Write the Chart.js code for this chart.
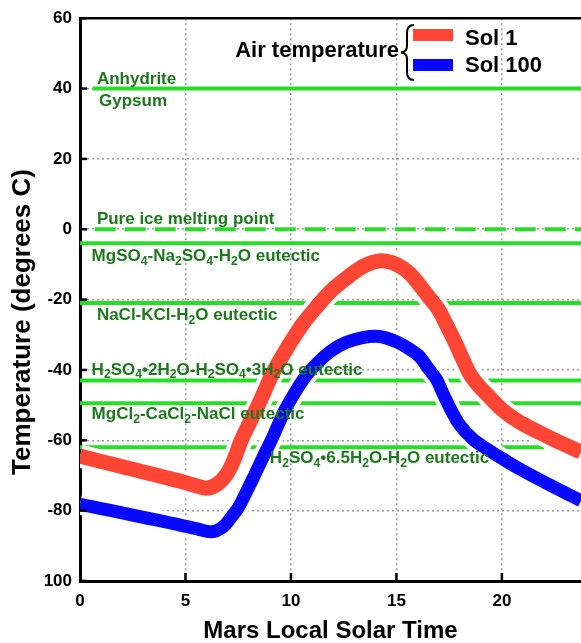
<!DOCTYPE html>
<html>
<head>
<meta charset="utf-8">
<script src="https://cdn.jsdelivr.net/npm/chart.js@4.4.0/dist/chart.umd.min.js"></script>
<style>
  html, body { margin: 0; padding: 0; background: #fff; }
  canvas { display: block; }
</style>
</head>
<body>
<canvas id="tempChart" width="581" height="643"></canvas>
<script>
// Air temperature over a Mars day (hours, deg C)
const sol1Hours = [0, 1, 2, 3, 4, 4.74, 5.5, 6.0, 6.5, 6.96, 7.3, 7.63, 8.0, 8.38, 8.75, 9.1, 9.55, 10.0, 10.55, 11.14, 11.9, 12.8, 13.5, 14.2, 14.8, 15.3, 15.7, 16.1, 16.5, 16.97, 17.4, 17.77, 18.15, 18.5, 18.9, 19.3, 20.05, 20.8, 21.65, 22.7, 23.75];
const sol1Temps = [-64.5, -66, -67.5, -69, -70.5, -71.6, -72.9, -73.6, -72.5, -69.6, -65.5, -60.2, -55.5, -50.9, -46, -41.3, -36.5, -32, -27, -22.6, -17.5, -13.1, -10.3, -9, -9.5, -11, -13, -15.9, -19, -22.6, -27.5, -32, -37, -41.3, -44.5, -47, -51.5, -54.7, -57.4, -60.5, -63.3];

const sol100Hours = [0, 1, 2, 3, 4, 4.74, 5.5, 6.25, 6.8, 7.15, 7.5, 7.9, 8.3, 8.7, 9.05, 9.4, 9.76, 10.25, 10.76, 11.3, 11.85, 12.6, 13.4, 14.2, 15.0, 15.6, 16.1, 16.5, 16.9, 17.17, 17.6, 18.0, 18.6, 19.3, 20.1, 20.86, 22.3, 23.75];
const sol100Temps = [-78.2, -79.4, -80.6, -81.9, -83.1, -84.1, -85.1, -86, -84.5, -82, -79.2, -74.5, -69.6, -64.5, -60.2, -55.5, -50.9, -45.8, -41.3, -37.8, -34.8, -32.2, -30.8, -30.5, -32, -34, -36.2, -39.5, -42.7, -46.2, -51.5, -55.6, -59.5, -62.5, -65.5, -68.2, -72.8, -77.2];

const seriesNames = ["Sol 1", "Sol 100"];
const legendTitle = "Air temperature";

// Phase boundaries (deg C) and the hours each reference line spans
const phaseTemps = [40, 0, -4, -21, -43, -49.5, -62];
const phaseStart = [0.6, 0.7, 0, 0, 0, 0, 0];
const phaseEnd = [23.75, 23.75, 23.75, 23.75, 23.75, 23.75, 22];

// Phase labels ("_n" = subscript)
const phaseLabels = [
  "Anhydrite",
  "Gypsum",
  "Pure ice melting point",
  "MgSO_4-Na_2SO_4-H_2O eutectic",
  "NaCl-KCl-H_2O eutectic",
  "H_2SO_4•2H_2O-H_2SO_4•3H_2O eutectic",
  "MgCl_2-CaCl_2-NaCl eutectic",
  "H_2SO_4•6.5H_2O-H_2O eutectic",
];
const labelTemps = [40, 40, 0, -4, -21, -43, -49.5, -62];

// Axis ticks
const xTicks = [0, 5, 10, 15, 20];
const yTicks = [60, 40, 20, 0, -20, -40, -60, -80, -100];
const yTickLabels = ["60", "40", "20", "0", "-20", "-40", "-60", "-80", "100"];

// label placement: [start hour, baseline offset in px from the line]
const labelPlace = [[0.8, -5], [0.9, 17], [0.8, -5], [0.55, 18], [0.8, 17], [0.55, -6], [0.55, 16], [9.0, 16]];

const FONT = '"Liberation Sans", Arial, Helvetica, sans-serif';
const RED = "rgb(255, 70, 52)";
const BLUE = "rgb(8, 8, 250)";
const LINE_GREEN = "rgb(40, 220, 40)";
const TEXT_GREEN = "rgb(30, 120, 30)";

function toPoints(xs, ys) {
  return xs.map((h, i) => ({ x: h, y: ys[i] }));
}

// draw text with "_n" subscripts
function drawRich(ctx, str, x, y, size) {
  let cx = x;
  str.split(/(_[0-9])/).forEach((part) => {
    if (!part) return;
    if (part[0] === "_") {
      ctx.font = `bold ${size * 0.72}px ${FONT}`;
      ctx.fillText(part[1], cx, y + size * 0.22);
      cx += ctx.measureText(part[1]).width;
    } else {
      ctx.font = `bold ${size}px ${FONT}`;
      ctx.fillText(part, cx, y);
      cx += ctx.measureText(part).width;
    }
  });
}

function curve(points, color, width, order) {
  return {
    data: points,
    borderColor: color,
    borderWidth: width,
    borderJoinStyle: "round",
    tension: 0.35,
    pointRadius: 0,
    order: order,
  };
}

const datasets = [
  { label: seriesNames[0], ...curve(toPoints(sol1Hours, sol1Temps), RED, 15, 0) },
  { label: seriesNames[1], ...curve(toPoints(sol100Hours, sol100Temps), BLUE, 13, 0) },
  // white halos behind the curves
  curve(toPoints(sol1Hours, sol1Temps), "#fff", 23, 1),
  curve(toPoints(sol100Hours, sol100Temps), "#fff", 21, 1),
];

phaseTemps.forEach((t, i) => {
  datasets.push({
    data: [
      { x: phaseStart[i], y: t },
      { x: phaseEnd[i], y: t },
    ],
    borderColor: LINE_GREEN,
    borderWidth: 4,
    borderDash: t === 0 ? [21, 9] : [],
    pointRadius: 0,
    order: 2,
  });
});

const annotate = {
  id: "annotate",
  afterDatasetsDraw(chart) {
    const { ctx, chartArea: a, scales } = chart;
    const x = scales.x;
    const y = scales.y;
    ctx.save();

    // top frame line
    ctx.strokeStyle = "#000";
    ctx.lineWidth = 2.5;
    ctx.beginPath();
    ctx.moveTo(a.left - 1, a.top);
    ctx.lineTo(a.right, a.top);
    ctx.stroke();

    // inward tick marks
    xTicks.slice(1).forEach((v) => {
      const px = x.getPixelForValue(v);
      ctx.beginPath();
      ctx.moveTo(px, a.bottom);
      ctx.lineTo(px, a.bottom - 8);
      ctx.stroke();
    });
    yTicks.forEach((v) => {
      const py = y.getPixelForValue(v);
      ctx.beginPath();
      ctx.moveTo(a.left, py);
      ctx.lineTo(a.left + 7, py);
      ctx.stroke();
    });

    // phase labels
    ctx.fillStyle = TEXT_GREEN;
    ctx.textAlign = "left";
    ctx.textBaseline = "alphabetic";
    phaseLabels.forEach((text, i) => {
      const px = x.getPixelForValue(labelPlace[i][0]);
      const py = y.getPixelForValue(labelTemps[i]) + labelPlace[i][1];
      drawRich(ctx, text, px, py, 17);
    });

    // legend
    ctx.fillStyle = "#000";
    ctx.font = `bold 22px ${FONT}`;
    ctx.textAlign = "right";
    ctx.fillText(legendTitle, 399, 57);
    ctx.lineWidth = 2;
    ctx.beginPath();
    ctx.moveTo(414, 25);
    ctx.quadraticCurveTo(407, 25, 407, 33);
    ctx.lineTo(407, 46);
    ctx.quadraticCurveTo(407, 52, 401, 52.5);
    ctx.quadraticCurveTo(407, 53, 407, 59);
    ctx.lineTo(407, 72);
    ctx.quadraticCurveTo(407, 80, 414, 80);
    ctx.stroke();
    ctx.textAlign = "left";
    [[RED, 29, 44.5], [BLUE, 59, 72]].forEach(([c, top, base], i) => {
      ctx.fillStyle = c;
      ctx.fillRect(413, top, 40, 12);
      ctx.fillStyle = "#000";
      ctx.fillText(chart.data.datasets[i].label, 465, base);
    });

    // y axis title
    ctx.translate(23, 322);
    ctx.rotate(-Math.PI / 2);
    ctx.textAlign = "center";
    ctx.textBaseline = "middle";
    ctx.font = `bold 26px ${FONT}`;
    ctx.fillText("Temperature (degrees C)", 0, 0);
    ctx.restore();
  },
};

new Chart(document.getElementById("tempChart").getContext("2d"), {
  type: "line",
  data: { datasets: datasets },
  options: {
    responsive: false,
    animation: false,
    layout: { padding: { top: 16, right: 0, bottom: 0, left: 0 } },
    plugins: { legend: { display: false }, tooltip: { enabled: false } },
    scales: {
      x: {
        type: "linear",
        min: 0,
        max: 23.75,
        afterBuildTicks: (scale) => {
          scale.ticks = xTicks.map((v) => ({ value: v }));
        },
        afterFit: (scale) => {
          scale.height = 62;
        },
        ticks: {
          padding: 10,
          color: "#000",
          font: { family: FONT, size: 17, weight: "bold" },
        },
        grid: { color: "#9a9a9a", lineWidth: 1.5, drawTicks: false },
        border: { display: true, color: "#000", width: 3, dash: [2, 3] },
        title: {
          display: true,
          text: "Mars Local Solar Time",
          color: "#000",
          padding: { top: 0, bottom: 0 },
          font: { family: FONT, size: 24, weight: "bold", lineHeight: 1 },
        },
      },
      y: {
        type: "linear",
        min: -100,
        max: 60,
        afterBuildTicks: (scale) => {
          scale.ticks = yTicks.map((v) => ({ value: v }));
        },
        afterFit: (scale) => {
          scale.width = 80;
        },
        ticks: {
          padding: 8,
          color: "#000",
          font: { family: FONT, size: 17, weight: "bold" },
          callback: (v) => yTickLabels[yTicks.indexOf(v)],
        },
        grid: { color: "#9a9a9a", lineWidth: 1.5, drawTicks: false },
        border: { display: true, color: "#000", width: 3, dash: [2, 3] },
      },
    },
  },
  plugins: [annotate],
});
</script>
</body>
</html>
